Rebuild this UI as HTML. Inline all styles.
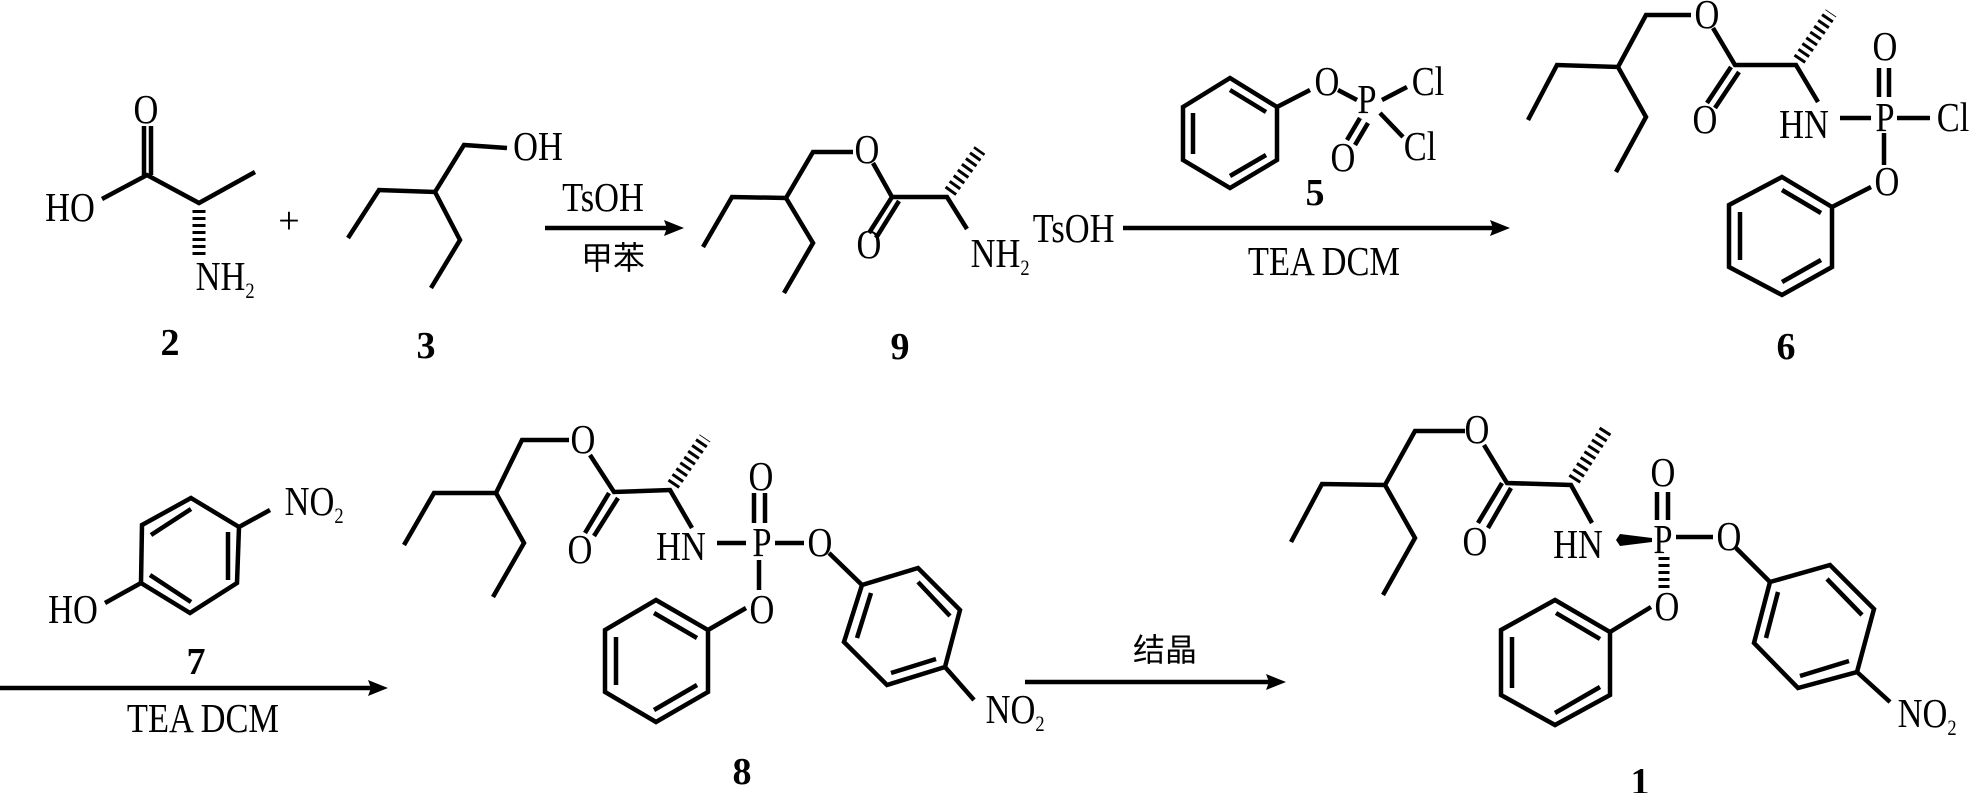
<!DOCTYPE html>
<html><head><meta charset="utf-8"><style>
html,body{margin:0;padding:0;background:#fff;}
svg{display:block;}
text{font-family:"Liberation Serif","Noto Serif CJK SC",serif;fill:#000;}
.a,.t{transform-box:fill-box;transform-origin:center;transform:scale(0.84,1);}
.a{font-size:41px;text-anchor:middle;dominant-baseline:central;}
.t{font-size:41px;}
.s{font-size:22px;}
.l{font-size:38px;font-weight:bold;text-anchor:middle;dominant-baseline:central;}
.c{font-family:"Liberation Serif","Noto Sans CJK SC",sans-serif;font-size:32px;text-anchor:middle;dominant-baseline:central;}
.b line,.b polyline,.b polygon{stroke:#000;stroke-width:4.5;fill:none;stroke-linecap:butt;stroke-linejoin:miter;}
.h{stroke:#000;stroke-width:13;stroke-dasharray:3 4;fill:none;}
</style></head><body>
<svg width="1969" height="793" viewBox="0 0 1969 793" xmlns="http://www.w3.org/2000/svg">
<g class="b">
<line x1="144" y1="126" x2="144" y2="175"/><line x1="151" y1="126" x2="151" y2="175"/>
<polyline points="102,199 147,175 199,203 255,172"/>
<polyline points="348,238 379,190 435,192 464,145 507,148"/>
<polyline points="435,192 460,240 431,288"/>
<line x1="545" y1="228" x2="668" y2="228"/>
<polyline points="703,247 732,197 786,198 813,152 853,152"/>
<polyline points="786,198 813,243 784,293"/>
<polyline points="873,163 892,197 947,197 967,229"/>
<line x1="892" y1="197" x2="869" y2="233"/><line x1="899" y1="201" x2="876" y2="238"/>
<line x1="1123" y1="228" x2="1494" y2="228"/>
<polygon points="1230,78 1277,107 1277,160 1230,188 1183,160 1183,107"/>
<line x1="1230" y1="90" x2="1266" y2="112"/><line x1="1193" y1="113" x2="1193" y2="154"/><line x1="1230" y1="176" x2="1266" y2="155"/>
<line x1="1277" y1="107" x2="1310" y2="90"/>
<line x1="1338" y1="90" x2="1357" y2="100"/>
<line x1="1382" y1="100" x2="1407" y2="87"/>
<line x1="1380" y1="113" x2="1403" y2="137"/>
<line x1="1360" y1="118" x2="1347" y2="140"/><line x1="1368" y1="123" x2="1355" y2="145"/>
<polyline points="1528,120 1557,65 1618,67 1646,15 1691,15"/>
<polyline points="1618,67 1646,117 1616,172"/>
<polyline points="1713,28 1735,65 1796,65 1818,102"/>
<line x1="1731" y1="67" x2="1707" y2="103"/><line x1="1739" y1="72" x2="1715" y2="108"/>
<line x1="1840" y1="118" x2="1871" y2="118"/><line x1="1897" y1="118" x2="1930" y2="118"/>
<line x1="1879" y1="68" x2="1879" y2="97"/><line x1="1889" y1="68" x2="1889" y2="97"/>
<line x1="1884" y1="133" x2="1884" y2="165"/>
<line x1="1871" y1="187" x2="1832" y2="207"/>
<polygon points="1782,177 1832,207 1832,267 1782,295 1729,267 1729,205"/>
<line x1="1782" y1="190" x2="1821" y2="213"/><line x1="1740" y1="212" x2="1740" y2="260"/><line x1="1782" y1="282" x2="1821" y2="260"/>
<polygon points="191,498 239,527 237,583 190,613 141,583 142,525"/>
<line x1="151" y1="535" x2="191" y2="509"/><line x1="228" y1="532" x2="228" y2="580"/><line x1="150" y1="575" x2="191" y2="602"/>
<line x1="239" y1="527" x2="270" y2="510"/>
<line x1="141" y1="583" x2="105" y2="603"/>
<line x1="0" y1="688" x2="372" y2="688"/>
<polyline points="404,545 434,493 496,493 522,440 569,440"/>
<polyline points="496,493 524,543 493,597"/>
<polyline points="590,455 614,492 670,490 692,528"/>
<line x1="609" y1="493" x2="585" y2="533"/><line x1="618" y1="498" x2="594" y2="536"/>
<line x1="717" y1="543" x2="746" y2="543"/><line x1="775" y1="543" x2="804" y2="543"/>
<line x1="754" y1="493" x2="754" y2="523"/><line x1="765" y1="493" x2="765" y2="523"/>
<line x1="759" y1="560" x2="759" y2="590"/>
<line x1="746" y1="608" x2="708" y2="630"/>
<polygon points="656,600 708,630 708,692 656,722 605,692 605,630"/>
<line x1="654" y1="613" x2="697" y2="638"/><line x1="616" y1="637" x2="616" y2="685"/><line x1="654" y1="710" x2="697" y2="685"/>
<line x1="829" y1="553" x2="862" y2="585"/>
<polygon points="862,585 918,568 960,610 945,667 887,685 844,642"/>
<line x1="918" y1="582" x2="950" y2="616"/><line x1="871" y1="593" x2="857" y2="638"/><line x1="891" y1="673" x2="936" y2="659"/>
<line x1="945" y1="667" x2="974" y2="700"/>
<line x1="1025" y1="682" x2="1270" y2="682"/>
<polyline points="1291,542 1322,484 1385,485 1415,431 1465,431"/>
<polyline points="1385,485 1415,538 1383,595"/>
<polyline points="1484,445 1507,483 1571,485 1592,523"/>
<line x1="1502" y1="483" x2="1478" y2="523"/><line x1="1511" y1="488" x2="1488" y2="528"/>
<line x1="1676" y1="537" x2="1713" y2="537"/>
<line x1="1657" y1="492" x2="1657" y2="520"/><line x1="1668" y1="492" x2="1668" y2="520"/>
<line x1="1651" y1="607" x2="1610" y2="632"/>
<polygon points="1555,600 1610,632 1610,695 1555,725 1501,695 1501,630"/>
<line x1="1556" y1="613" x2="1600" y2="639"/><line x1="1512" y1="637" x2="1512" y2="688"/><line x1="1555" y1="713" x2="1600" y2="687"/>
<line x1="1736" y1="548" x2="1770" y2="582"/>
<polygon points="1770,582 1830,565 1874,609 1857,672 1798,688 1754,643"/>
<line x1="1827" y1="579" x2="1862" y2="615"/><line x1="1778" y1="592" x2="1766" y2="638"/><line x1="1800" y1="676" x2="1849" y2="661"/>
<line x1="1857" y1="672" x2="1890" y2="702"/>
</g>
<polygon points="684,228 664,220 667,228 664,236" fill="#000"/>
<polygon points="1510,228 1490,220 1493,228 1490,236" fill="#000"/>
<polygon points="388,688 368,680 371,688 368,696" fill="#000"/>
<polygon points="1286,682 1266,674 1269,682 1266,690" fill="#000"/>
<line class="h" x1="199" y1="210" x2="199" y2="258"/>
<line class="h" x1="950" y1="192" x2="980" y2="150"/>
<line class="h" x1="1799" y1="60" x2="1831" y2="13"/>
<line class="h" x1="673" y1="485" x2="705" y2="438"/>
<line class="h" x1="1574" y1="480" x2="1606" y2="430"/>
<line class="h" x1="1664" y1="557" x2="1664" y2="591" style="stroke-width:11"/>
<polygon points="1652,538 1652,542 1620,546 1616,540 1620,534" fill="#000"/>
<text class="a" x="146" y="110">O</text>
<text class="a" x="70" y="208">HO</text>
<text class="t" x="190" y="290">NH<tspan class="s" dy="8">2</tspan></text>
<text class="l" x="170" y="343">2</text>
<text x="289" y="221" style="font-size:38px;text-anchor:middle;dominant-baseline:central">+</text>
<text class="a" x="538" y="147">OH</text>
<text class="l" x="426" y="346">3</text>
<text class="a" x="603" y="198">TsOH</text>
<text class="c" x="613" y="258">甲苯</text>
<text class="a" x="867" y="150">O</text>
<text class="a" x="869" y="245">O</text>
<text class="t" x="965" y="267">NH<tspan class="s" dy="8">2</tspan></text>
<text class="t" x="1025" y="242">TsOH</text>
<text class="l" x="900" y="347">9</text>
<text class="a" x="1327" y="82">O</text>
<text class="a" x="1367" y="100">P</text>
<text class="a" x="1428" y="82">Cl</text>
<text class="a" x="1420" y="147">Cl</text>
<text class="a" x="1343" y="158">O</text>
<text class="l" x="1315" y="193">5</text>
<text class="t" x="1324" y="275" style="text-anchor:middle">TEA DCM</text>
<text class="a" x="1707" y="15">O</text>
<text class="a" x="1705" y="120">O</text>
<text class="a" x="1804" y="125">HN</text>
<text class="a" x="1885" y="118">P</text>
<text class="a" x="1953" y="118">Cl</text>
<text class="a" x="1885" y="47">O</text>
<text class="a" x="1887" y="182">O</text>
<text class="l" x="1786" y="347">6</text>
<text class="t" x="279" y="515">NO<tspan class="s" dy="8">2</tspan></text>
<text class="a" x="73" y="610">HO</text>
<text class="l" x="196" y="662">7</text>
<text class="t" x="203" y="732" style="text-anchor:middle">TEA DCM</text>
<text class="a" x="583" y="440">O</text>
<text class="a" x="580" y="550">O</text>
<text class="a" x="681" y="547">HN</text>
<text class="a" x="762" y="543">P</text>
<text class="a" x="820" y="543">O</text>
<text class="a" x="761" y="477">O</text>
<text class="a" x="762" y="610">O</text>
<text class="t" x="980" y="723">NO<tspan class="s" dy="8">2</tspan></text>
<text class="l" x="742" y="772">8</text>
<text class="c" x="1165" y="650">结晶</text>
<text class="a" x="1477" y="430">O</text>
<text class="a" x="1475" y="542">O</text>
<text class="a" x="1578" y="545">HN</text>
<text class="a" x="1663" y="540">P</text>
<text class="a" x="1729" y="537">O</text>
<text class="a" x="1663" y="473">O</text>
<text class="a" x="1667" y="607">O</text>
<text class="t" x="1892" y="727">NO<tspan class="s" dy="8">2</tspan></text>
<text class="l" x="1640" y="782">1</text>
</svg>
</body></html>
